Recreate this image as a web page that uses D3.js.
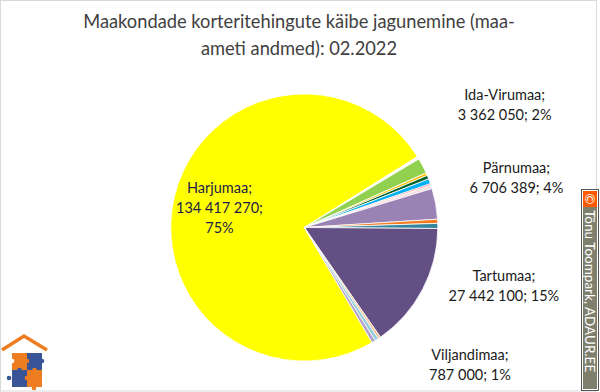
<!DOCTYPE html>
<html>
<head>
<meta charset="utf-8">
<script src="https://cdn.jsdelivr.net/npm/d3@7"></script>
<style>
  body { margin: 0; background: #fff; }
  svg { display: block; font-family: Lato, "Open Sans", sans-serif; }
</style>
</head>
<body>
<svg class="pie-chart" width="600" height="392"></svg>
<script>
// Data (counties in the order they go round the pie)
const counties = ['Harjumaa', 'Hiiumaa', 'Ida-Virumaa', 'Jõgevamaa', 'Järvamaa', 'Läänemaa',
    'Lääne-Virumaa', 'Põlvamaa', 'Pärnumaa', 'Raplamaa', 'Saaremaa', 'Tartumaa',
    'Valgamaa', 'Viljandimaa', 'Võrumaa'];
const values = [134417270, 600000, 3362050, 600000, 800000, 1100000,
    350000, 750000, 6706389, 900000, 1100000, 27442100,
    550000, 787000, 800000];
const colours = ['#FFFF00', '#FBFBFB', '#92D050', '#FFC000', '#00612A', '#00B0F0',
    '#FF6B6B', '#F5E0DF', '#9983B5', '#F47B20', '#31859C', '#644F85',
    '#FAC090', '#93CDDD', '#B3A2C7'];

// Labelled slices and the percentages shown on the chart
const labelNames = ['Harjumaa', 'Ida-Virumaa', 'Pärnumaa', 'Tartumaa', 'Viljandimaa'];
const labelPcts = ['75%', '2%', '4%', '15%', '1%'];

const title = ['Maakondade korteritehingute käibe jagunemine (maa-', 'ameti andmed): 02.2022'];

const svg = d3.select('.pie-chart');

// chart border
svg.append('rect')
    .attr('x', 0.5).attr('y', 0.5)
    .attr('width', 596).attr('height', 390.5)
    .attr('fill', '#fff')
    .attr('stroke', '#d9d9d9');

// title
svg.append('text')
    .attr('text-anchor', 'middle')
    .attr('fill', '#404040')
    .attr('font-size', 18.3)
    .selectAll('tspan')
    .data(title)
    .join('tspan')
    .attr('x', 299)
    .attr('y', (d, i) => 28 + i * 27)
    .text(d => d);

const cx = 304.3, cy = 227.5, radius = 133.5;

const data = counties.map((c, i) => ({ county: c, value: values[i], colour: colours[i] }));

const startAngle = 149.5 * Math.PI / 180;
const pie = d3.pie()
    .sort(null)
    .value(d => d.value)
    .startAngle(startAngle)
    .endAngle(startAngle + 2 * Math.PI);

const arc = d3.arc().innerRadius(0).outerRadius(radius);

const g = svg.append('g')
    .attr('transform', `translate(${cx}, ${cy})`);

const arcs = pie(data);

g.selectAll('path')
    .data(arcs)
    .join('path')
    .attr('d', arc)
    .attr('fill', d => d.data.colour)
    .attr('stroke', '#fff')
    .attr('stroke-width', 0.8)
    .attr('stroke-linejoin', 'round');

// number format with spaces between thousands
const fmt = d3.formatLocale({ decimal: ',', thousands: '\u00a0', grouping: [3], currency: ['', ''] }).format(',');

// label placement: angle shift (deg) from slice middle, distance from centre
const labelShift = { 'Harjumaa': [-1, 87], 'Ida-Virumaa': [-4, 235], 'Pärnumaa': [-3, 218], 'Tartumaa': [-11.5, 208], 'Viljandimaa': [-17.5, 215] };

labelNames.forEach((name, i) => {
    const a = arcs.find(d => d.data.county === name);
    const mid = (a.startAngle + a.endAngle) / 2 + labelShift[name][0] * Math.PI / 180;
    const r = labelShift[name][1];
    const x = Math.sin(mid) * r, y = -Math.cos(mid) * r;
    const lines = name === 'Harjumaa'
        ? [name + ';', fmt(a.data.value) + ';', labelPcts[i]]
        : [name + ';', fmt(a.data.value) + '; ' + labelPcts[i]];
    const top = y - (lines.length - 1) * 10;
    g.append('text')
        .attr('text-anchor', 'middle')
        .attr('font-size', 14.5)
        .attr('fill', name === 'Harjumaa' ? '#1d1d4a' : '#1a1a1a')
        .selectAll('tspan')
        .data(lines)
        .join('tspan')
        .attr('x', x)
        .attr('y', (d, j) => top + j * 20 + 5)
        .text(d => d);
});

// watermark on the right edge
const wm = svg.append('g');
wm.append('rect').attr('x', 581.5).attr('y', 189.5).attr('width', 17).attr('height', 201)
    .attr('fill', '#fff').attr('stroke', '#555');
wm.append('rect').attr('x', 583).attr('y', 191).attr('width', 14).attr('height', 198)
    .attr('fill', '#7f7f6e');
wm.append('rect').attr('x', 583).attr('y', 191).attr('width', 14).attr('height', 16)
    .attr('fill', '#ff5a00');
wm.append('text')
    .attr('x', 590).attr('y', 199)
    .attr('text-anchor', 'middle')
    .attr('dominant-baseline', 'central')
    .attr('font-size', 13)
    .attr('fill', '#fff')
    .attr('transform', 'rotate(90, 590, 199)')
    .text('©');
wm.append('text')
    .attr('transform', 'translate(585, 210) rotate(90)')
    .attr('font-size', 13.5)
    .attr('fill', '#fff')
    .text('Tõnu Toompark, ADAUR.EE');

// logo in the lower left corner
const logo = svg.append('g');
logo.append('path')
    .attr('d', 'M2,350 L24,336 L47,350')
    .attr('fill', 'none')
    .attr('stroke', '#ee7d22')
    .attr('stroke-width', 3.5);
const pieces = [[12, 353, '#ee7d22'], [27, 353, '#3a5597'], [12, 370, '#3a5597'], [27, 370, '#ee7d22']];
pieces.forEach(p => {
    logo.append('rect').attr('x', p[0]).attr('y', p[1]).attr('width', 15).attr('height', 17).attr('fill', p[2]);
});
[[27, 361, '#ee7d22'], [19.5, 370, '#3a5597'], [34.5, 370, '#ee7d22'], [27, 378, '#ee7d22'],
 [12, 361, '#fff'], [42, 361, '#3a5597'], [9, 378, '#3a5597'], [34, 388, '#ee7d22']].forEach(k => {
    logo.append('circle').attr('cx', k[0]).attr('cy', k[1]).attr('r', 2.3).attr('fill', k[2]);
});
</script>
</body>
</html>
